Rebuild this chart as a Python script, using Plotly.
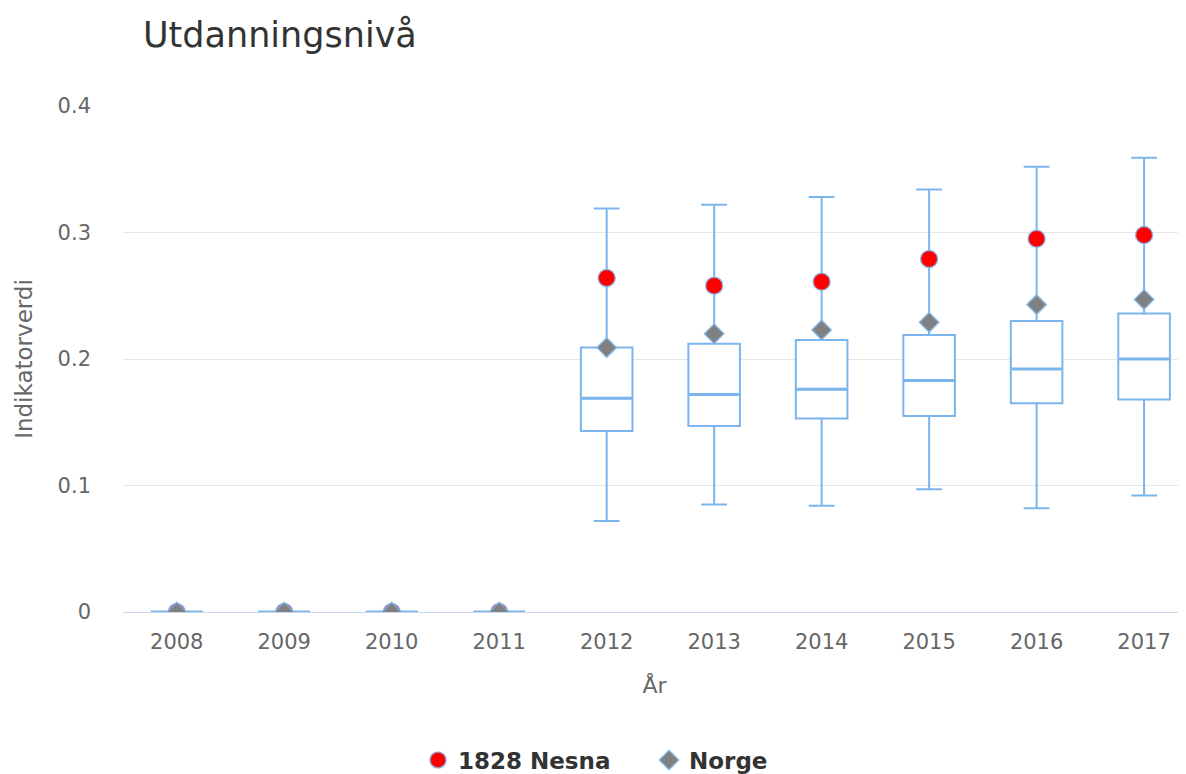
import plotly.graph_objects as go

years = ["2008", "2009", "2010", "2011", "2012", "2013", "2014", "2015", "2016", "2017"]
lower = [0, 0, 0, 0, 0.072, 0.085, 0.084, 0.097, 0.082, 0.092]
q1 = [0, 0, 0, 0, 0.143, 0.147, 0.153, 0.155, 0.165, 0.168]
median = [0, 0, 0, 0, 0.169, 0.172, 0.176, 0.183, 0.192, 0.200]
q3 = [0, 0, 0, 0, 0.209, 0.212, 0.215, 0.219, 0.230, 0.236]
upper = [0, 0, 0, 0, 0.319, 0.322, 0.328, 0.334, 0.352, 0.359]
nesna = [0, 0, 0, 0, 0.264, 0.258, 0.261, 0.279, 0.295, 0.298]
norge = [0, 0, 0, 0, 0.209, 0.220, 0.223, 0.229, 0.243, 0.247]

BLUE = "#7cb5ec"
FONT = "DejaVu Sans"
W, H = 1178, 766  # page body has an 8px margin

fig = go.Figure()
fig.add_trace(go.Box(
    x=years, q1=q1, median=median, q3=q3, lowerfence=lower, upperfence=upper,
    fillcolor="white", line=dict(color=BLUE, width=2), width=0.48,
    whiskerwidth=0.5, showlegend=False, hoverinfo="skip", boxpoints=False,
))
# thicker median line
fig.add_trace(go.Scatter(
    x=years, y=median, mode="markers", showlegend=False, hoverinfo="skip",
    marker=dict(symbol="line-ew", size=37, color=BLUE, line=dict(color=BLUE, width=3)),
))
fig.add_trace(go.Scatter(
    x=years, y=nesna, mode="markers", name="1828 Nesna",
    marker=dict(symbol="circle", size=17, color="#ff0000",
                line=dict(color="rgba(124,181,236,0.8)", width=1.5)),
))
fig.add_trace(go.Scatter(
    x=years, y=norge, mode="markers", name="Norge",
    marker=dict(symbol="diamond", size=15, color="#808080",
                line=dict(color="rgba(124,181,236,0.8)", width=1.5)),
))

fig.update_layout(
    width=W, height=H,
    margin=dict(l=115, r=0, t=98, b=162),
    paper_bgcolor="white", plot_bgcolor="white",
    font=dict(family=FONT, color="#666666", size=21),
    title=dict(text="Utdanningsnivå", font=dict(family=FONT, size=35, color="#333333"),
               xref="container", yref="container", x=135/W, xanchor="left",
               y=1-27/H, yanchor="middle"),
    legend=dict(orientation="h", xref="container", yref="container",
                x=410/W, xanchor="left", y=14/H, yanchor="middle",
                entrywidth=186, entrywidthmode="pixels",
                font=dict(family=FONT, size=23, color="#333333", weight="bold")),
    xaxis=dict(type="category", range=[-0.5, 9.39], showgrid=False,
               showline=True, linecolor="#ccd6eb", linewidth=1,
               tickfont=dict(size=21, color="#666666"), ticks="",
               ticklabelstandoff=11,
               title=dict(text="År", font=dict(size=22, color="#666666"), standoff=24),
               zeroline=False),
    yaxis=dict(range=[0, 0.4], dtick=0.1, showgrid=True, gridcolor="#e6e6e6",
               gridwidth=1, zeroline=False, showline=False, ticks="",
               tickfont=dict(size=21, color="#666666"), ticklabelstandoff=31,
               title=dict(text="Indikatorverdi", font=dict(size=23, color="#666666"), standoff=18)),
    hovermode=False,
)

fig.write_html("out.html")
